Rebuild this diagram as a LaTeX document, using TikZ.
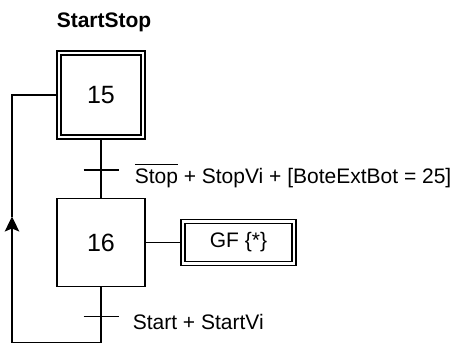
\documentclass[tikz,border=0pt]{standalone}
\usepackage{fontspec}
\setmainfont{Liberation Sans}
\usetikzlibrary{positioning, arrows.meta}

\tikzset{
  stepbox/.style={draw, line width=1.5pt, minimum size=88pt, inner sep=0pt, outer sep=0pt,
    font=\fontsize{25}{30}\selectfont},
  initstep/.style={stepbox, line width=1.3pt, double, double distance=2.6pt, minimum size=84pt, outer sep=2.6pt},
  actionbox/.style={draw, line width=1.3pt, double, double distance=2.6pt, minimum width=111pt,
    minimum height=42pt, inner sep=0pt, outer sep=2.6pt, font=\fontsize{21}{25}\selectfont},
  tick/.style={minimum width=35pt, minimum height=0pt, inner sep=0pt, outer sep=0pt},
  cond/.style={inner sep=0pt, anchor=base west, yshift=-6.5pt, font=\fontsize{21}{25}\selectfont},
  title/.style={inner sep=0pt, font=\fontsize{21}{25}\selectfont\bfseries}
}

\begin{document}
\begin{tikzpicture}[x=1pt, y=-1pt, line width=1.5pt]

        \useasboundingbox (0,0) rectangle (456,346);

        \node[title, anchor=base west] (name) at (56,27) {StartStop};

        \node[initstep] (s15) at (101,95) {15};
        \node[tick] (t1) [below=30.5pt of s15] {};
        \node[stepbox] (s16) [below=28.4pt of t1] {16};
        \node[tick] (t2) [below=30pt of s16] {};
        \node[actionbox] (a16) [right=35.4pt of s16] {GF \{*\}};

        \node[cond] (c1) [right=15.5pt of t1, cond] {\(\overline{\mbox{Stop\rule{0pt}{18pt}}}\) + StopVi + [BoteExtBot = 25]};
        \node[cond] (c2) [right=13.5pt of t2, cond] {Start + StartVi};

        \coordinate (back) at (12,342.5);
        \coordinate (up) at (12,216.5);

        \draw (s15.south) -- (s16.north);
        \draw (t1.west) -- (t1.east);
        \draw (t2.west) -- (t2.east);
        \draw (s16.east) -- (a16.west);
        \draw (s16.south) |- (back);
        \draw[-{Stealth[length=15pt, width=14.5pt, inset=3pt]}] (back) -- (up);
        \draw (up) |- (s15.west);

    \end{tikzpicture}
\end{document}
